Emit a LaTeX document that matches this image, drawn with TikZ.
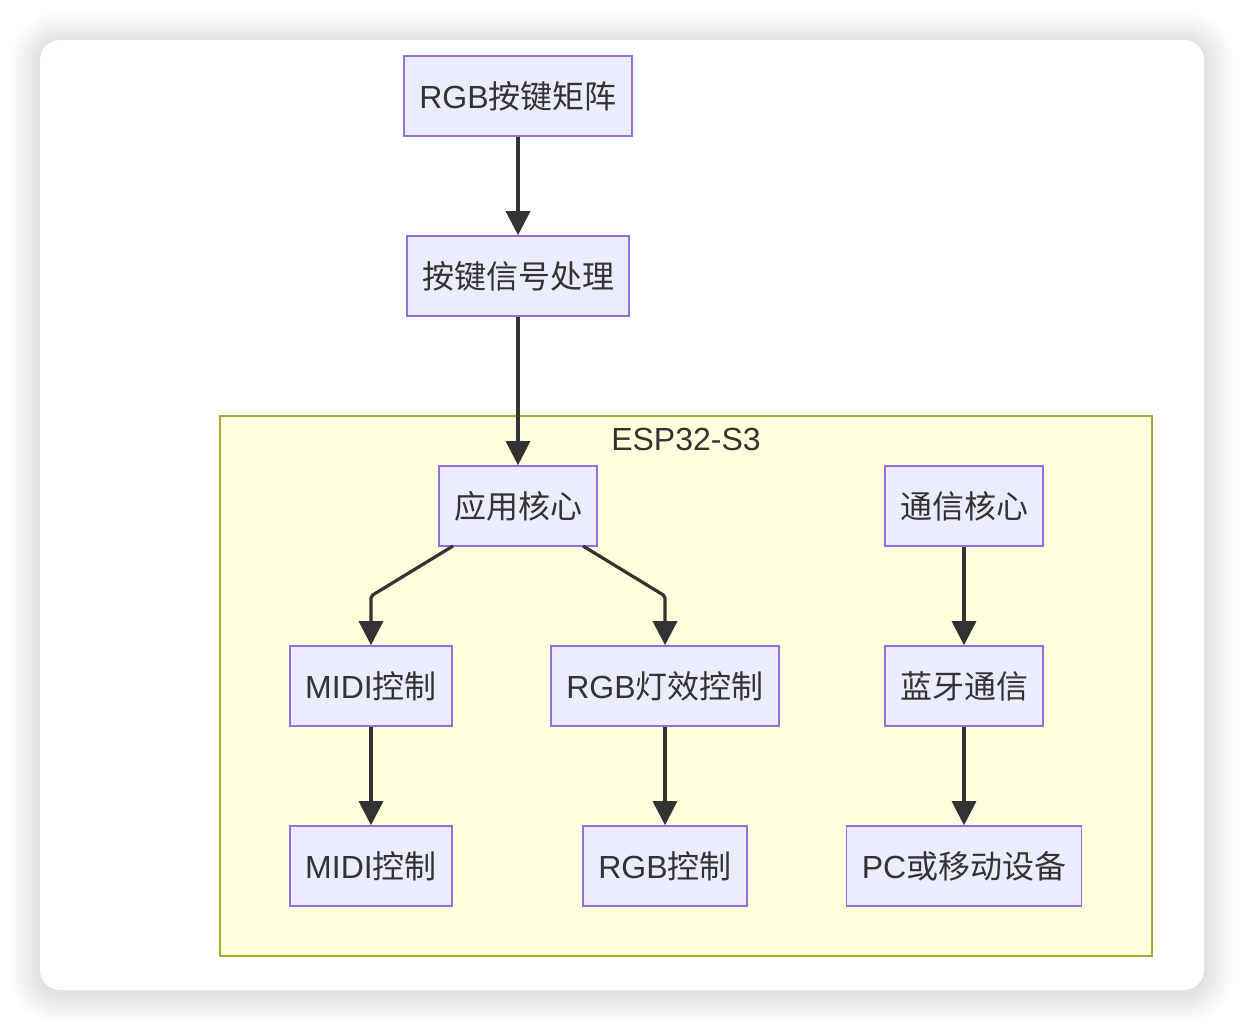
\documentclass[tikz,border=0pt]{standalone}
\usepackage{fontspec}
\setmainfont{Liberation Sans}
\newfontfamily\cjk{Noto Sans CJK SC}
\usetikzlibrary{arrows.meta}
\definecolor{nodefill}{HTML}{ECECFF}
\definecolor{nodeline}{HTML}{9370DB}
\definecolor{clfill}{HTML}{FFFFDE}
\definecolor{clline}{HTML}{AAAA33}
\definecolor{edge}{HTML}{333333}
\begin{document}
\begin{tikzpicture}[x=1pt,y=-1pt,
  box/.style={draw=nodeline,fill=nodefill,line width=1.6pt,minimum height=80pt,inner sep=0pt,font=\fontsize{32}{36}\selectfont,text=edge},
  link/.style={draw=edge,line width=3.2pt,-{Triangle[length=24pt,width=24pt]}}]
\useasboundingbox (0,0) rectangle (1244,1030);
\fill[white] (0,0) rectangle (1244,1030);
% shadow
\foreach \i in {1,...,30}{
  \fill[black,opacity=0.005,rounded corners={20pt+\i pt}] ({40-\i},{42-\i}) rectangle ({1204+\i},{993+\i});
}
\fill[white,rounded corners=20pt] (40,40) rectangle (1204,990);
% cluster
\draw[draw=clline,fill=clfill,line width=1.6pt] (220,416) rectangle (1152,956);
\node[font=\fontsize{32}{36}\selectfont,text=edge] (cl) at (686,439) {ESP32-S3};
% nodes
\node[box,minimum width=228pt] (a) at (518,96) {RGB{\cjk 按键矩阵}};
\node[box,minimum width=222pt] (b) at (518,276) {{\cjk 按键信号处理}};
\node[box,minimum width=158pt] (c) at (518,506) {{\cjk 应用核心}};
\node[box,minimum width=158pt] (d) at (964,506) {{\cjk 通信核心}};
\node[box,minimum width=162pt] (e) at (371,686) {MIDI{\cjk 控制}};
\node[box,minimum width=228pt] (f) at (665,686) {RGB{\cjk 灯效控制}};
\node[box,minimum width=158pt] (g) at (964,686) {{\cjk 蓝牙通信}};
\node[box,minimum width=162pt] (h) at (371,866) {MIDI{\cjk 控制}};
\node[box,minimum width=164pt] (i) at (665,866) {RGB{\cjk 控制}};
\node[box,minimum width=235pt] (j) at (964,866) {PC{\cjk 或移动设备}};
% edges
\coordinate (c1) at (453,546);
\coordinate (c2) at (583,546);
\draw[link] (a) -- (b);
\draw[link] (b) -- (c);
\draw[link,rounded corners=2pt] (c1) -- (371,596) -- (e.north);
\draw[link,rounded corners=2pt] (c2) -- (665,596) -- (f.north);
\draw[link] (e) -- (h);
\draw[link] (f) -- (i);
\draw[link] (d) -- (g);
\draw[link] (g) -- (j);
\end{tikzpicture}
\end{document}
